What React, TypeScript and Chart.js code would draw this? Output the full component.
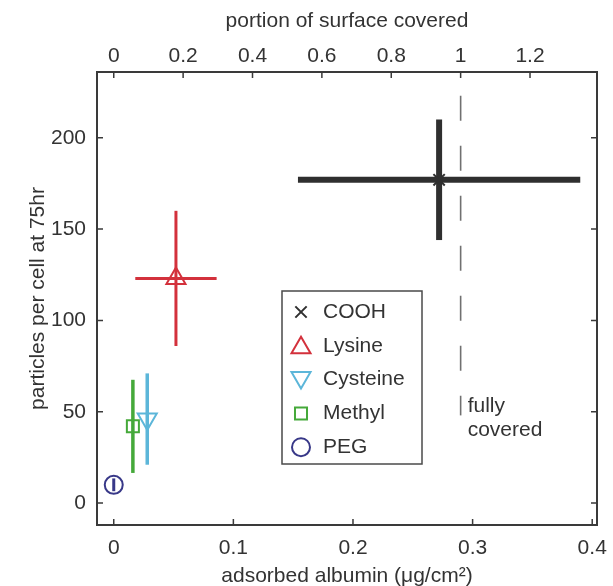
import React, { useEffect, useRef } from "react";
import { Chart, registerables } from "chart.js";
import { drawPoint } from "chart.js/helpers";

Chart.register(...registerables);

// ---------------- data ----------------
const seriesNames = ["COOH", "Lysine", "Cysteine", "Methyl", "PEG"];
const albumin = [0.272, 0.052, 0.028, 0.016, 0.0];
const albuminErr = [0.118, 0.034, 0, 0, 0];
const particles = [177, 123, 46, 42, 10];
const particlesErr = [33, 37, 25, 25.5, 3.5];

const albuminTicks = [0, 0.1, 0.2, 0.3, 0.4];
const coverageTicks = [0, 0.2, 0.4, 0.6, 0.8, 1, 1.2];
const particleTicks = [0, 50, 100, 150, 200];

const fullCoverageAlbumin = 0.29; // albumin at which portion covered = 1
const fullCoverageLineSpan = [223, 48];
const fullCoverageLabel = ["fully", "covered"];
const fullCoverageLabelY = [53, 40];

// ---------------- styles ----------------
const FONT = '"Liberation Sans", Arial, Helvetica, sans-serif';
const TEXT = "#333333";
const AXIS = "#3a3a3a";
const colors = ["#2f2f2f", "#d3313c", "#5cb6d9", "#45a93a", "#383888"];
const pointStyles = ["crossRot", "triangle", "triangle", "rect", "circle"];
const pointRotations = [0, 0, 180, 0, 0];
const pointRadii = [8, 11, 11, 8.5, 9];
const errWidths = [6, 3, 3.5, 3.5, 3];

const X_MIN = -0.014;
const X_MAX = 0.404;
const Y_MIN = -12;
const Y_MAX = 236;

const fmt = (v: number) => String(Math.round(v * 100) / 100);

const noPad = (s: any) => {
  s.paddingLeft = 0;
  s.paddingRight = 0;
  s.paddingTop = 0;
  s.paddingBottom = 0;
};

const decorPlugin = {
  id: "decor",
  beforeDatasetsDraw(chart: any) {
    const { ctx, scales } = chart;
    const xs = scales.x;
    const ys = scales.y;
    ctx.save();
    // dashed "fully covered" line
    const lx = xs.getPixelForValue(fullCoverageAlbumin);
    ctx.beginPath();
    ctx.setLineDash([25, 25]);
    ctx.lineWidth = 1.6;
    ctx.strokeStyle = "#707070";
    ctx.moveTo(lx, ys.getPixelForValue(fullCoverageLineSpan[0]));
    ctx.lineTo(lx, ys.getPixelForValue(fullCoverageLineSpan[1]));
    ctx.stroke();
    ctx.setLineDash([]);
    // error bars
    ctx.lineCap = "butt";
    for (let i = seriesNames.length - 1; i >= 0; i--) {
      ctx.strokeStyle = colors[i];
      ctx.lineWidth = errWidths[i];
      const cx = xs.getPixelForValue(albumin[i]);
      const cy = ys.getPixelForValue(particles[i]);
      if (albuminErr[i] > 0) {
        ctx.beginPath();
        ctx.moveTo(xs.getPixelForValue(albumin[i] - albuminErr[i]), cy);
        ctx.lineTo(xs.getPixelForValue(albumin[i] + albuminErr[i]), cy);
        ctx.stroke();
      }
      if (particlesErr[i] > 0) {
        ctx.beginPath();
        ctx.moveTo(cx, ys.getPixelForValue(particles[i] - particlesErr[i]));
        ctx.lineTo(cx, ys.getPixelForValue(particles[i] + particlesErr[i]));
        ctx.stroke();
      }
    }
    ctx.restore();
  },
  afterDatasetsDraw(chart: any) {
    const { ctx, chartArea, scales } = chart;
    const { left, right, top, bottom } = chartArea;
    const xs = scales.x;
    const x2 = scales.x2;
    const ys = scales.y;
    ctx.save();
    // frame
    ctx.strokeStyle = AXIS;
    ctx.lineWidth = 2;
    ctx.strokeRect(left, top, right - left, bottom - top);
    // inner ticks
    const tl = 6;
    ctx.lineWidth = 1.5;
    ctx.beginPath();
    xs.ticks.forEach((t: any) => {
      const p = xs.getPixelForValue(t.value);
      ctx.moveTo(p, bottom);
      ctx.lineTo(p, bottom - tl);
    });
    x2.ticks.forEach((t: any) => {
      const p = x2.getPixelForValue(t.value);
      ctx.moveTo(p, top);
      ctx.lineTo(p, top + tl);
    });
    ys.ticks.forEach((t: any) => {
      const p = ys.getPixelForValue(t.value);
      ctx.moveTo(left, p);
      ctx.lineTo(left + tl, p);
      ctx.moveTo(right, p);
      ctx.lineTo(right - tl, p);
    });
    ctx.stroke();

    // "fully covered" label
    ctx.fillStyle = TEXT;
    ctx.font = `21px ${FONT}`;
    ctx.textAlign = "left";
    ctx.textBaseline = "middle";
    const lx = xs.getPixelForValue(fullCoverageAlbumin) + 7;
    fullCoverageLabel.forEach((s, i) => {
      ctx.fillText(s, lx, ys.getPixelForValue(fullCoverageLabelY[i]));
    });

    // legend
    const bx = left + 185;
    const by = top + 219;
    const bw = 140;
    const bh = 173;
    ctx.fillStyle = "#ffffff";
    ctx.fillRect(bx, by, bw, bh);
    ctx.strokeStyle = "#4a4a4a";
    ctx.lineWidth = 1.5;
    ctx.strokeRect(bx, by, bw, bh);
    seriesNames.forEach((name, i) => {
      const ry = by + 21 + i * 33.8;
      ctx.strokeStyle = colors[i];
      ctx.fillStyle = "rgba(0,0,0,0)";
      ctx.lineWidth = 2;
      drawPoint(
        ctx,
        {
          pointStyle: pointStyles[i],
          rotation: pointRotations[i],
          radius: pointRadii[i],
          borderWidth: 2,
        } as any,
        bx + 19,
        ry + (pointStyles[i] === "triangle" ? (pointRotations[i] ? -2 : 2) : 0)
      );
      ctx.fillStyle = TEXT;
      ctx.fillText(name, bx + 41, ry);
    });
    ctx.restore();
  },
};

export default function App() {
  const ref = useRef<HTMLCanvasElement | null>(null);
  useEffect(() => {
    if (!ref.current) return;
    const font = { family: FONT, size: 21 };
    const datasets = seriesNames.map((name, i) => ({
      label: name,
      data: [{ x: albumin[i], y: particles[i] }],
      showLine: false,
      pointStyle: pointStyles[i],
      pointRotation: pointRotations[i],
      pointRadius: pointRadii[i],
      pointBorderWidth: 2,
      pointBorderColor: colors[i],
      pointBackgroundColor: "rgba(0,0,0,0)",
      borderColor: colors[i],
      backgroundColor: "rgba(0,0,0,0)",
    }));
    const chart = new Chart(ref.current, {
      type: "scatter",
      data: { datasets },
      options: {
        animation: false,
        responsive: false,
        devicePixelRatio: 1,
        layout: { padding: { left: 0, top: 0, right: 16, bottom: 0 } },
        plugins: { legend: { display: false }, tooltip: { enabled: false } },
        scales: {
          x: {
            type: "linear",
            position: "bottom",
            min: X_MIN,
            max: X_MAX,
            afterBuildTicks: (s: any) => {
              s.ticks = albuminTicks.map((v) => ({ value: v }));
            },
            ticks: {
              callback: (v: any) => fmt(Number(v)),
              font,
              color: TEXT,
              padding: 11,
              maxRotation: 0,
              autoSkip: false,
            },
            grid: { display: false, drawTicks: false },
            border: { display: false },
            title: {
              display: true,
              text: "adsorbed albumin (μg/cm²)",
              font,
              color: TEXT,
              padding: { top: 0, bottom: -3 },
            },
            afterFit: (s: any) => {
              s.height = 61;
              noPad(s);
            },
          },
          x2: {
            type: "linear",
            position: "top",
            min: X_MIN / fullCoverageAlbumin,
            max: X_MAX / fullCoverageAlbumin,
            afterBuildTicks: (s: any) => {
              s.ticks = coverageTicks.map((v) => ({ value: v }));
            },
            ticks: {
              callback: (v: any) => fmt(Number(v)),
              font,
              color: TEXT,
              padding: 3,
              maxRotation: 0,
              autoSkip: false,
            },
            grid: { display: false, drawTicks: false },
            border: { display: false },
            title: {
              display: true,
              text: "portion of surface covered",
              font,
              color: TEXT,
              padding: { top: 9, bottom: 0 },
            },
            afterFit: (s: any) => {
              s.height = 72;
              noPad(s);
            },
          },
          y: {
            type: "linear",
            position: "left",
            min: Y_MIN,
            max: Y_MAX,
            afterBuildTicks: (s: any) => {
              s.ticks = particleTicks.map((v) => ({ value: v }));
            },
            ticks: {
              callback: (v: any) => fmt(Number(v)),
              font,
              color: TEXT,
              padding: 11,
              autoSkip: false,
            },
            grid: { display: false, drawTicks: false },
            border: { display: false },
            title: {
              display: true,
              text: "particles per cell at 75hr",
              font,
              color: TEXT,
              padding: { top: 26, bottom: 0 },
            },
            afterFit: (s: any) => {
              s.width = 97;
              noPad(s);
            },
          },
        },
      } as any,
      plugins: [decorPlugin],
    });
    return () => chart.destroy();
  }, []);
  return (
    <div style={{ position: "absolute", left: 0, top: 0, width: 613, height: 586, background: "#fff" }}>
      <canvas ref={ref} width={613} height={586} style={{ width: 613, height: 586, display: "block" }} />
    </div>
  );
}
